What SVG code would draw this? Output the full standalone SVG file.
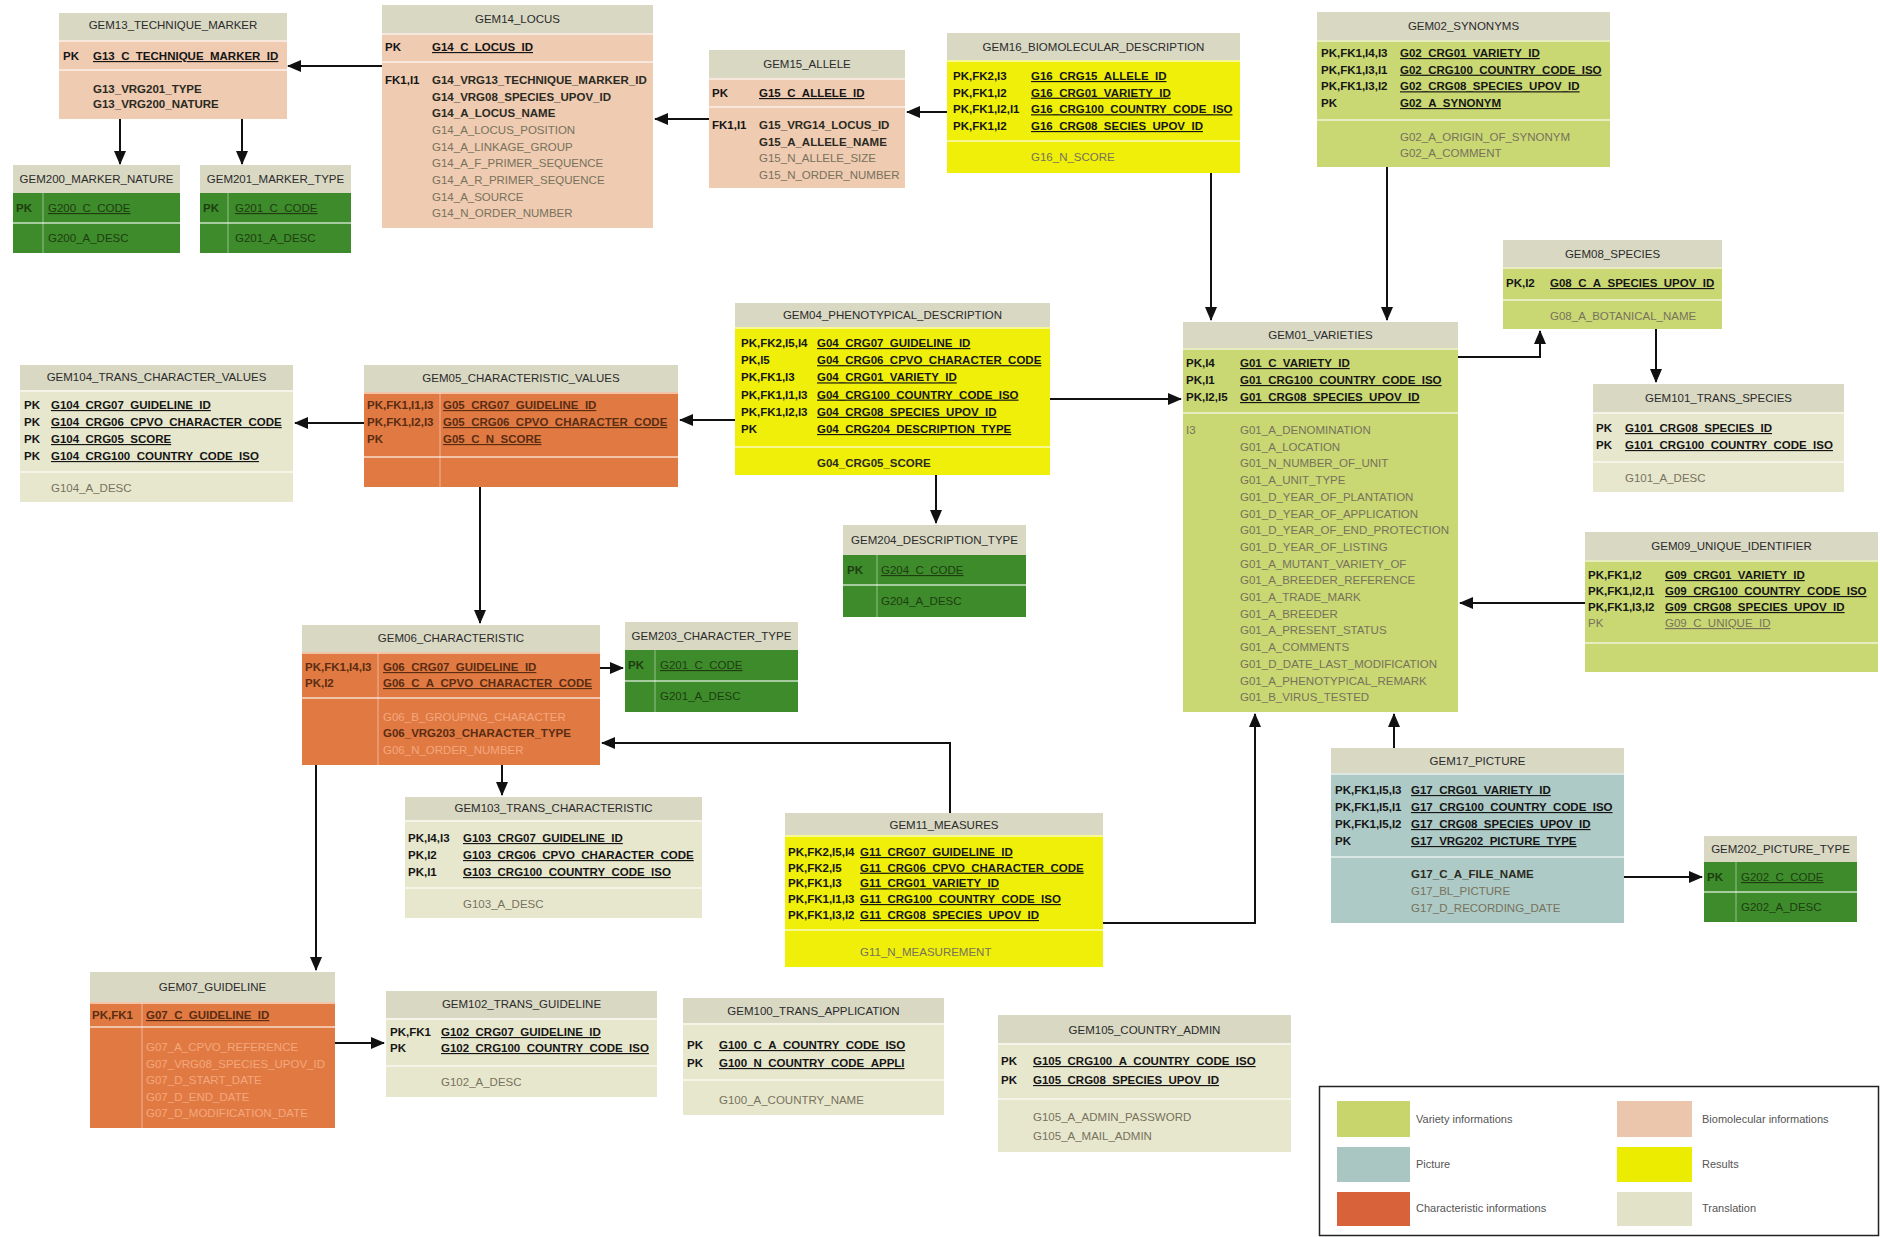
<svg xmlns="http://www.w3.org/2000/svg" width="1880" height="1237" viewBox="0 0 1880 1237">
<defs>
<style>
text{font-family:"Liberation Sans",Arial,sans-serif;font-size:11.5px}
.hd{fill:#d9d8c3}
.ti{text-anchor:middle;fill:#2b2b2b}
.k{font-weight:bold;fill:#151515}
.f{font-weight:bold;fill:#151515;text-decoration:underline}
.a{fill:#77725c}
.au{fill:#77725c;text-decoration:underline}
.b{font-weight:bold;fill:#2a2a22}
.hl{stroke:#fff;stroke-opacity:.55;stroke-width:2}
.vl{stroke:#fff;stroke-opacity:.3;stroke-width:1.5}
.var{fill:#c9d873}
.bio{fill:#efcbb1}
.pic{fill:#aecac6}
.res{fill:#efef0a}
.chr{fill:#e17a42}
.trn{fill:#e7e7ce}
.cod{fill:#3e8b2b}
.ck{font-weight:bold;fill:#5a2c12}
.cf{font-weight:bold;fill:#5a2c12;text-decoration:underline}
.ca{fill:#f3a77e}
.dk{fill:#1d3d10}
.dkb{fill:#1d3d10;font-weight:bold}
.du{fill:#1d3d10;text-decoration:underline}
.cn{stroke:#111;stroke-width:2;fill:none;marker-end:url(#ah)}
.lg{font-size:11px;fill:#555}
</style>
<marker id="ah" markerWidth="14" markerHeight="12" refX="13" refY="6" orient="auto" markerUnits="userSpaceOnUse"><path d="M0,0 L14,6 L0,12 z" fill="#111"/></marker>
</defs>
<rect x="0" y="0" width="1880" height="1237" fill="#fff"/>

<g id="connectors">
<path class="cn" d="M382,66 L288,66"/>
<path class="cn" d="M120,119 L120,164"/>
<path class="cn" d="M242,119 L242,164"/>
<path class="cn" d="M709,119 L655,119"/>
<path class="cn" d="M947,112 L907,112"/>
<path class="cn" d="M1211,173 L1211,320"/>
<path class="cn" d="M1387,167 L1387,320"/>
<path class="cn" d="M1458,357 L1540,357 L1540,331"/>
<path class="cn" d="M1656,329 L1656,382"/>
<path class="cn" d="M1585,603 L1460,603"/>
<path class="cn" d="M1394,748 L1394,714"/>
<path class="cn" d="M1103,923 L1255,923 L1255,714"/>
<path class="cn" d="M1624,877 L1702,877"/>
<path class="cn" d="M1050,399 L1181,399"/>
<path class="cn" d="M735,420 L680,420"/>
<path class="cn" d="M936,475 L936,523"/>
<path class="cn" d="M364,423 L295,423"/>
<path class="cn" d="M480,487 L480,623"/>
<path class="cn" d="M600,668 L623,668"/>
<path class="cn" d="M950,813 L950,743 L602,743"/>
<path class="cn" d="M502,765 L502,795"/>
<path class="cn" d="M316,765 L316,970"/>
<path class="cn" d="M335,1043 L384,1043"/>
</g>

<g id="gem13">
<rect class="bio" x="59" y="13" width="228" height="106"/>
<rect class="hd" x="59" y="13" width="228" height="27"/>
<line class="hl" x1="59" y1="41" x2="287" y2="41"/>
<line class="hl" x1="59" y1="70" x2="287" y2="70"/>
<text class="ti" x="173" y="29">GEM13_TECHNIQUE_MARKER</text>
<text class="k" x="63" y="60">PK</text>
<text class="f" x="93" y="60">G13_C_TECHNIQUE_MARKER_ID</text>
<text class="b" x="93" y="93">G13_VRG201_TYPE</text>
<text class="b" x="93" y="108">G13_VRG200_NATURE</text>
</g>

<g id="gem200">
<rect class="cod" x="13" y="165" width="167" height="88"/>
<rect class="hd" x="13" y="165" width="167" height="28"/>
<line class="hl" x1="13" y1="223" x2="180" y2="223"/>
<line class="vl" x1="43" y1="193" x2="43" y2="253"/>
<text class="ti" x="96.5" y="183">GEM200_MARKER_NATURE</text>
<text class="dkb" x="16" y="212">PK</text>
<text class="du" x="48" y="212">G200_C_CODE</text>
<text class="dk" x="48" y="242">G200_A_DESC</text>
</g>

<g id="gem201">
<rect class="cod" x="200" y="165" width="151" height="88"/>
<rect class="hd" x="200" y="165" width="151" height="28"/>
<line class="hl" x1="200" y1="223" x2="351" y2="223"/>
<line class="vl" x1="228" y1="193" x2="228" y2="253"/>
<text class="ti" x="275.5" y="183">GEM201_MARKER_TYPE</text>
<text class="dkb" x="203" y="212">PK</text>
<text class="du" x="235" y="212">G201_C_CODE</text>
<text class="dk" x="235" y="242">G201_A_DESC</text>
</g>

<g id="gem14">
<rect class="bio" x="382" y="5" width="271" height="223"/>
<rect class="hd" x="382" y="5" width="271" height="28"/>
<line class="hl" x1="382" y1="34" x2="653" y2="34"/>
<line class="hl" x1="382" y1="62" x2="653" y2="62"/>
<text class="ti" x="517.5" y="23">GEM14_LOCUS</text>
<text class="k" x="385" y="51">PK</text>
<text class="f" x="432" y="51">G14_C_LOCUS_ID</text>
<text class="k" x="385" y="84">FK1,I1</text>
<text class="b" x="432" y="84">G14_VRG13_TECHNIQUE_MARKER_ID</text>
<text class="b" x="432" y="100.7">G14_VRG08_SPECIES_UPOV_ID</text>
<text class="b" x="432" y="117.4">G14_A_LOCUS_NAME</text>
<text class="a" x="432" y="134">G14_A_LOCUS_POSITION</text>
<text class="a" x="432" y="150.7">G14_A_LINKAGE_GROUP</text>
<text class="a" x="432" y="167.4">G14_A_F_PRIMER_SEQUENCE</text>
<text class="a" x="432" y="184">G14_A_R_PRIMER_SEQUENCE</text>
<text class="a" x="432" y="200.7">G14_A_SOURCE</text>
<text class="a" x="432" y="217.4">G14_N_ORDER_NUMBER</text>
</g>

<g id="gem15">
<rect class="bio" x="709" y="50" width="196" height="138"/>
<rect class="hd" x="709" y="50" width="196" height="28"/>
<line class="hl" x1="709" y1="79" x2="905" y2="79"/>
<line class="hl" x1="709" y1="107" x2="905" y2="107"/>
<text class="ti" x="807" y="68">GEM15_ALLELE</text>
<text class="k" x="712" y="97">PK</text>
<text class="f" x="759" y="97">G15_C_ALLELE_ID</text>
<text class="k" x="712" y="129">FK1,I1</text>
<text class="b" x="759" y="129">G15_VRG14_LOCUS_ID</text>
<text class="b" x="759" y="145.7">G15_A_ALLELE_NAME</text>
<text class="a" x="759" y="162.3">G15_N_ALLELE_SIZE</text>
<text class="a" x="759" y="179">G15_N_ORDER_NUMBER</text>
</g>

<g id="gem16">
<rect class="res" x="947" y="33" width="293" height="140"/>
<rect class="hd" x="947" y="33" width="293" height="27"/>
<line class="hl" x1="947" y1="61" x2="1240" y2="61"/>
<line class="hl" x1="947" y1="141" x2="1240" y2="141"/>
<text class="ti" x="1093.5" y="51">GEM16_BIOMOLECULAR_DESCRIPTION</text>
<text class="k" x="953" y="80">PK,FK2,I3</text>
<text class="f" x="1031" y="80">G16_CRG15_ALLELE_ID</text>
<text class="k" x="953" y="96.7">PK,FK1,I2</text>
<text class="f" x="1031" y="96.7">G16_CRG01_VARIETY_ID</text>
<text class="k" x="953" y="113.3">PK,FK1,I2,I1</text>
<text class="f" x="1031" y="113.3">G16_CRG100_COUNTRY_CODE_ISO</text>
<text class="k" x="953" y="130">PK,FK1,I2</text>
<text class="f" x="1031" y="130">G16_CRG08_SECIES_UPOV_ID</text>
<text class="a" x="1031" y="161">G16_N_SCORE</text>
</g>

<g id="gem02">
<rect class="var" x="1317" y="12" width="293" height="155"/>
<rect class="hd" x="1317" y="12" width="293" height="28"/>
<line class="hl" x1="1317" y1="41" x2="1610" y2="41"/>
<line class="hl" x1="1317" y1="120" x2="1610" y2="120"/>
<text class="ti" x="1463.5" y="30">GEM02_SYNONYMS</text>
<text class="k" x="1321" y="57">PK,FK1,I4,I3</text>
<text class="f" x="1400" y="57">G02_CRG01_VARIETY_ID</text>
<text class="k" x="1321" y="73.7">PK,FK1,I3,I1</text>
<text class="f" x="1400" y="73.7">G02_CRG100_COUNTRY_CODE_ISO</text>
<text class="k" x="1321" y="90.3">PK,FK1,I3,I2</text>
<text class="f" x="1400" y="90.3">G02_CRG08_SPECIES_UPOV_ID</text>
<text class="k" x="1321" y="107">PK</text>
<text class="f" x="1400" y="107">G02_A_SYNONYM</text>
<text class="a" x="1400" y="141">G02_A_ORIGIN_OF_SYNONYM</text>
<text class="a" x="1400" y="157">G02_A_COMMENT</text>
</g>

<g id="gem08">
<rect class="var" x="1503" y="240" width="219" height="89"/>
<rect class="hd" x="1503" y="240" width="219" height="27"/>
<line class="hl" x1="1503" y1="268" x2="1722" y2="268"/>
<line class="hl" x1="1503" y1="300" x2="1722" y2="300"/>
<text class="ti" x="1612.5" y="258">GEM08_SPECIES</text>
<text class="k" x="1506" y="287">PK,I2</text>
<text class="f" x="1550" y="287">G08_C_A_SPECIES_UPOV_ID</text>
<text class="a" x="1550" y="320">G08_A_BOTANICAL_NAME</text>
</g>

<g id="gem101">
<rect class="trn" x="1593" y="384" width="251" height="108"/>
<rect class="hd" x="1593" y="384" width="251" height="28"/>
<line class="hl" x1="1593" y1="413" x2="1844" y2="413"/>
<line class="hl" x1="1593" y1="462" x2="1844" y2="462"/>
<text class="ti" x="1718.5" y="402">GEM101_TRANS_SPECIES</text>
<text class="k" x="1596" y="432">PK</text>
<text class="f" x="1625" y="432">G101_CRG08_SPECIES_ID</text>
<text class="k" x="1596" y="449">PK</text>
<text class="f" x="1625" y="449">G101_CRG100_COUNTRY_CODE_ISO</text>
<text class="a" x="1625" y="482">G101_A_DESC</text>
</g>

<g id="gem01">
<rect class="var" x="1183" y="322" width="275" height="390"/>
<rect class="hd" x="1183" y="322" width="275" height="26"/>
<line class="hl" x1="1183" y1="349" x2="1458" y2="349"/>
<line class="hl" x1="1183" y1="413" x2="1458" y2="413"/>
<text class="ti" x="1320.5" y="339">GEM01_VARIETIES</text>
<text class="k" x="1186" y="367">PK,I4</text>
<text class="f" x="1240" y="367">G01_C_VARIETY_ID</text>
<text class="k" x="1186" y="384">PK,I1</text>
<text class="f" x="1240" y="384">G01_CRG100_COUNTRY_CODE_ISO</text>
<text class="k" x="1186" y="401">PK,I2,I5</text>
<text class="f" x="1240" y="401">G01_CRG08_SPECIES_UPOV_ID</text>
<text class="a" x="1186" y="434">I3</text>
<text class="a" x="1240" y="434">G01_A_DENOMINATION</text>
<text class="a" x="1240" y="450.7">G01_A_LOCATION</text>
<text class="a" x="1240" y="467.4">G01_N_NUMBER_OF_UNIT</text>
<text class="a" x="1240" y="484.1">G01_A_UNIT_TYPE</text>
<text class="a" x="1240" y="500.8">G01_D_YEAR_OF_PLANTATION</text>
<text class="a" x="1240" y="517.5">G01_D_YEAR_OF_APPLICATION</text>
<text class="a" x="1240" y="534.2">G01_D_YEAR_OF_END_PROTECTION</text>
<text class="a" x="1240" y="550.9">G01_D_YEAR_OF_LISTING</text>
<text class="a" x="1240" y="567.6">G01_A_MUTANT_VARIETY_OF</text>
<text class="a" x="1240" y="584.3">G01_A_BREEDER_REFERENCE</text>
<text class="a" x="1240" y="601">G01_A_TRADE_MARK</text>
<text class="a" x="1240" y="617.7">G01_A_BREEDER</text>
<text class="a" x="1240" y="634.4">G01_A_PRESENT_STATUS</text>
<text class="a" x="1240" y="651.1">G01_A_COMMENTS</text>
<text class="a" x="1240" y="667.8">G01_D_DATE_LAST_MODIFICATION</text>
<text class="a" x="1240" y="684.5">G01_A_PHENOTYPICAL_REMARK</text>
<text class="a" x="1240" y="701.2">G01_B_VIRUS_TESTED</text>
</g>

<g id="gem09">
<rect class="var" x="1585" y="532" width="293" height="140"/>
<rect class="hd" x="1585" y="532" width="293" height="28"/>
<line class="hl" x1="1585" y1="561" x2="1878" y2="561"/>
<line class="hl" x1="1585" y1="643" x2="1878" y2="643"/>
<text class="ti" x="1731.5" y="550">GEM09_UNIQUE_IDENTIFIER</text>
<text class="k" x="1588" y="579">PK,FK1,I2</text>
<text class="f" x="1665" y="579">G09_CRG01_VARIETY_ID</text>
<text class="k" x="1588" y="595">PK,FK1,I2,I1</text>
<text class="f" x="1665" y="595">G09_CRG100_COUNTRY_CODE_ISO</text>
<text class="k" x="1588" y="611">PK,FK1,I3,I2</text>
<text class="f" x="1665" y="611">G09_CRG08_SPECIES_UPOV_ID</text>
<text class="a" x="1588" y="627">PK</text>
<text class="au" x="1665" y="627">G09_C_UNIQUE_ID</text>
</g>

<g id="gem04">
<rect class="res" x="735" y="303" width="315" height="172"/>
<rect class="hd" x="735" y="303" width="315" height="24"/>
<line class="hl" x1="735" y1="328" x2="1050" y2="328"/>
<line class="hl" x1="735" y1="447" x2="1050" y2="447"/>
<text class="ti" x="892.5" y="319">GEM04_PHENOTYPICAL_DESCRIPTION</text>
<text class="k" x="741" y="347">PK,FK2,I5,I4</text>
<text class="f" x="817" y="347">G04_CRG07_GUIDELINE_ID</text>
<text class="k" x="741" y="364.2">PK,I5</text>
<text class="f" x="817" y="364.2">G04_CRG06_CPVO_CHARACTER_CODE</text>
<text class="k" x="741" y="381.4">PK,FK1,I3</text>
<text class="f" x="817" y="381.4">G04_CRG01_VARIETY_ID</text>
<text class="k" x="741" y="398.6">PK,FK1,I1,I3</text>
<text class="f" x="817" y="398.6">G04_CRG100_COUNTRY_CODE_ISO</text>
<text class="k" x="741" y="415.8">PK,FK1,I2,I3</text>
<text class="f" x="817" y="415.8">G04_CRG08_SPECIES_UPOV_ID</text>
<text class="k" x="741" y="433">PK</text>
<text class="f" x="817" y="433">G04_CRG204_DESCRIPTION_TYPE</text>
<text class="b" x="817" y="467">G04_CRG05_SCORE</text>
</g>

<g id="gem204">
<rect class="cod" x="843" y="525" width="183" height="92"/>
<rect class="hd" x="843" y="525" width="183" height="30"/>
<line class="hl" x1="843" y1="585" x2="1026" y2="585"/>
<line class="vl" x1="877" y1="555" x2="877" y2="617"/>
<text class="ti" x="934.5" y="544">GEM204_DESCRIPTION_TYPE</text>
<text class="dkb" x="847" y="574">PK</text>
<text class="du" x="881" y="574">G204_C_CODE</text>
<text class="dk" x="881" y="605">G204_A_DESC</text>
</g>

<g id="gem104">
<rect class="trn" x="20" y="365" width="273" height="137"/>
<rect class="hd" x="20" y="365" width="273" height="25"/>
<line class="hl" x1="20" y1="391" x2="293" y2="391"/>
<line class="hl" x1="20" y1="472" x2="293" y2="472"/>
<text class="ti" x="156.5" y="381">GEM104_TRANS_CHARACTER_VALUES</text>
<text class="k" x="24" y="409">PK</text>
<text class="f" x="51" y="409">G104_CRG07_GUIDELINE_ID</text>
<text class="k" x="24" y="426">PK</text>
<text class="f" x="51" y="426">G104_CRG06_CPVO_CHARACTER_CODE</text>
<text class="k" x="24" y="443">PK</text>
<text class="f" x="51" y="443">G104_CRG05_SCORE</text>
<text class="k" x="24" y="460">PK</text>
<text class="f" x="51" y="460">G104_CRG100_COUNTRY_CODE_ISO</text>
<text class="a" x="51" y="492">G104_A_DESC</text>
</g>

<g id="gem05">
<rect class="chr" x="364" y="365" width="314" height="122"/>
<rect class="hd" x="364" y="365" width="314" height="27"/>
<line class="hl" x1="364" y1="393" x2="678" y2="393"/>
<line class="hl" x1="364" y1="457" x2="678" y2="457"/>
<line class="vl" x1="440" y1="393" x2="440" y2="487"/>
<text class="ti" x="521" y="382">GEM05_CHARACTERISTIC_VALUES</text>
<text class="ck" x="367" y="409">PK,FK1,I1,I3</text>
<text class="cf" x="443" y="409">G05_CRG07_GUIDELINE_ID</text>
<text class="ck" x="367" y="426">PK,FK1,I2,I3</text>
<text class="cf" x="443" y="426">G05_CRG06_CPVO_CHARACTER_CODE</text>
<text class="ck" x="367" y="443">PK</text>
<text class="cf" x="443" y="443">G05_C_N_SCORE</text>
</g>

<g id="gem06">
<rect class="chr" x="302" y="625" width="298" height="140"/>
<rect class="hd" x="302" y="625" width="298" height="27"/>
<line class="hl" x1="302" y1="653" x2="600" y2="653"/>
<line class="hl" x1="302" y1="698" x2="600" y2="698"/>
<line class="vl" x1="378" y1="653" x2="378" y2="765"/>
<text class="ti" x="451" y="642">GEM06_CHARACTERISTIC</text>
<text class="ck" x="305" y="671">PK,FK1,I4,I3</text>
<text class="cf" x="383" y="671">G06_CRG07_GUIDELINE_ID</text>
<text class="ck" x="305" y="687">PK,I2</text>
<text class="cf" x="383" y="687">G06_C_A_CPVO_CHARACTER_CODE</text>
<text class="ca" x="383" y="721">G06_B_GROUPING_CHARACTER</text>
<text class="ck" x="383" y="737">G06_VRG203_CHARACTER_TYPE</text>
<text class="ca" x="383" y="754">G06_N_ORDER_NUMBER</text>
</g>

<g id="gem203">
<rect class="cod" x="625" y="622" width="173" height="90"/>
<rect class="hd" x="625" y="622" width="173" height="28"/>
<line class="hl" x1="625" y1="681" x2="798" y2="681"/>
<line class="vl" x1="655" y1="650" x2="655" y2="712"/>
<text class="ti" x="711.5" y="640">GEM203_CHARACTER_TYPE</text>
<text class="dkb" x="628" y="669">PK</text>
<text class="du" x="660" y="669">G201_C_CODE</text>
<text class="dk" x="660" y="700">G201_A_DESC</text>
</g>

<g id="gem103">
<rect class="trn" x="405" y="797" width="297" height="121"/>
<rect class="hd" x="405" y="797" width="297" height="23"/>
<line class="hl" x1="405" y1="821" x2="702" y2="821"/>
<line class="hl" x1="405" y1="888" x2="702" y2="888"/>
<text class="ti" x="553.5" y="812">GEM103_TRANS_CHARACTERISTIC</text>
<text class="k" x="408" y="842">PK,I4,I3</text>
<text class="f" x="463" y="842">G103_CRG07_GUIDELINE_ID</text>
<text class="k" x="408" y="859">PK,I2</text>
<text class="f" x="463" y="859">G103_CRG06_CPVO_CHARACTER_CODE</text>
<text class="k" x="408" y="876">PK,I1</text>
<text class="f" x="463" y="876">G103_CRG100_COUNTRY_CODE_ISO</text>
<text class="a" x="463" y="908">G103_A_DESC</text>
</g>

<g id="gem11">
<rect class="res" x="785" y="813" width="318" height="154"/>
<rect class="hd" x="785" y="813" width="318" height="22"/>
<line class="hl" x1="785" y1="836" x2="1103" y2="836"/>
<line class="hl" x1="785" y1="930" x2="1103" y2="930"/>
<text class="ti" x="944" y="829">GEM11_MEASURES</text>
<text class="k" x="788" y="856">PK,FK2,I5,I4</text>
<text class="f" x="860" y="856">G11_CRG07_GUIDELINE_ID</text>
<text class="k" x="788" y="871.7">PK,FK2,I5</text>
<text class="f" x="860" y="871.7">G11_CRG06_CPVO_CHARACTER_CODE</text>
<text class="k" x="788" y="887.4">PK,FK1,I3</text>
<text class="f" x="860" y="887.4">G11_CRG01_VARIETY_ID</text>
<text class="k" x="788" y="903">PK,FK1,I1,I3</text>
<text class="f" x="860" y="903">G11_CRG100_COUNTRY_CODE_ISO</text>
<text class="k" x="788" y="919">PK,FK1,I3,I2</text>
<text class="f" x="860" y="919">G11_CRG08_SPECIES_UPOV_ID</text>
<text class="a" x="860" y="956">G11_N_MEASUREMENT</text>
</g>

<g id="gem17">
<rect class="pic" x="1331" y="748" width="293" height="175"/>
<rect class="hd" x="1331" y="748" width="293" height="25"/>
<line class="hl" x1="1331" y1="774" x2="1624" y2="774"/>
<line class="hl" x1="1331" y1="857" x2="1624" y2="857"/>
<text class="ti" x="1477.5" y="765">GEM17_PICTURE</text>
<text class="k" x="1335" y="794">PK,FK1,I5,I3</text>
<text class="f" x="1411" y="794">G17_CRG01_VARIETY_ID</text>
<text class="k" x="1335" y="811">PK,FK1,I5,I1</text>
<text class="f" x="1411" y="811">G17_CRG100_COUNTRY_CODE_ISO</text>
<text class="k" x="1335" y="828">PK,FK1,I5,I2</text>
<text class="f" x="1411" y="828">G17_CRG08_SPECIES_UPOV_ID</text>
<text class="k" x="1335" y="845">PK</text>
<text class="f" x="1411" y="845">G17_VRG202_PICTURE_TYPE</text>
<text class="b" x="1411" y="878">G17_C_A_FILE_NAME</text>
<text class="a" x="1411" y="895">G17_BL_PICTURE</text>
<text class="a" x="1411" y="912">G17_D_RECORDING_DATE</text>
</g>

<g id="gem202">
<rect class="cod" x="1704" y="836" width="153" height="86"/>
<rect class="hd" x="1704" y="836" width="153" height="26"/>
<line class="hl" x1="1704" y1="892" x2="1857" y2="892"/>
<line class="vl" x1="1736" y1="862" x2="1736" y2="922"/>
<text class="ti" x="1780.5" y="853">GEM202_PICTURE_TYPE</text>
<text class="dkb" x="1707" y="881">PK</text>
<text class="du" x="1741" y="881">G202_C_CODE</text>
<text class="dk" x="1741" y="911">G202_A_DESC</text>
</g>

<g id="gem07">
<rect class="chr" x="90" y="972" width="245" height="156"/>
<rect class="hd" x="90" y="972" width="245" height="30"/>
<line class="hl" x1="90" y1="1003" x2="335" y2="1003"/>
<line class="hl" x1="90" y1="1027" x2="335" y2="1027"/>
<line class="vl" x1="142" y1="1003" x2="142" y2="1128"/>
<text class="ti" x="212.5" y="991">GEM07_GUIDELINE</text>
<text class="ck" x="92" y="1019">PK,FK1</text>
<text class="cf" x="146" y="1019">G07_C_GUIDELINE_ID</text>
<text class="ca" x="146" y="1051">G07_A_CPVO_REFERENCE</text>
<text class="ca" x="146" y="1067.5">G07_VRG08_SPECIES_UPOV_ID</text>
<text class="ca" x="146" y="1084">G07_D_START_DATE</text>
<text class="ca" x="146" y="1100.5">G07_D_END_DATE</text>
<text class="ca" x="146" y="1117">G07_D_MODIFICATION_DATE</text>
</g>

<g id="gem102">
<rect class="trn" x="386" y="991" width="271" height="106"/>
<rect class="hd" x="386" y="991" width="271" height="27"/>
<line class="hl" x1="386" y1="1019" x2="657" y2="1019"/>
<line class="hl" x1="386" y1="1066" x2="657" y2="1066"/>
<text class="ti" x="521.5" y="1008">GEM102_TRANS_GUIDELINE</text>
<text class="k" x="390" y="1036">PK,FK1</text>
<text class="f" x="441" y="1036">G102_CRG07_GUIDELINE_ID</text>
<text class="k" x="390" y="1052">PK</text>
<text class="f" x="441" y="1052">G102_CRG100_COUNTRY_CODE_ISO</text>
<text class="a" x="441" y="1086">G102_A_DESC</text>
</g>

<g id="gem100">
<rect class="trn" x="683" y="998" width="261" height="117"/>
<rect class="hd" x="683" y="998" width="261" height="25"/>
<line class="hl" x1="683" y1="1024" x2="944" y2="1024"/>
<line class="hl" x1="683" y1="1080" x2="944" y2="1080"/>
<text class="ti" x="813.5" y="1015">GEM100_TRANS_APPLICATION</text>
<text class="k" x="687" y="1049">PK</text>
<text class="f" x="719" y="1049">G100_C_A_COUNTRY_CODE_ISO</text>
<text class="k" x="687" y="1067">PK</text>
<text class="f" x="719" y="1067">G100_N_COUNTRY_CODE_APPLI</text>
<text class="a" x="719" y="1104">G100_A_COUNTRY_NAME</text>
</g>

<g id="gem105">
<rect class="trn" x="998" y="1015" width="293" height="137"/>
<rect class="hd" x="998" y="1015" width="293" height="28"/>
<line class="hl" x1="998" y1="1044" x2="1291" y2="1044"/>
<line class="hl" x1="998" y1="1099" x2="1291" y2="1099"/>
<text class="ti" x="1144.5" y="1034">GEM105_COUNTRY_ADMIN</text>
<text class="k" x="1001" y="1065">PK</text>
<text class="f" x="1033" y="1065">G105_CRG100_A_COUNTRY_CODE_ISO</text>
<text class="k" x="1001" y="1084">PK</text>
<text class="f" x="1033" y="1084">G105_CRG08_SPECIES_UPOV_ID</text>
<text class="a" x="1033" y="1121">G105_A_ADMIN_PASSWORD</text>
<text class="a" x="1033" y="1140">G105_A_MAIL_ADMIN</text>
</g>

<g id="legend">
<rect x="1319.5" y="1086.5" width="559" height="149" fill="#fff" stroke="#222" stroke-width="1.5"/>
<rect x="1337" y="1101" width="73" height="36" fill="#c8d56c"/>
<rect x="1337" y="1147" width="73" height="35" fill="#a9c6c2"/>
<rect x="1337" y="1192" width="73" height="34" fill="#d8633b"/>
<rect x="1617" y="1101" width="75" height="36" fill="#ebc6ad"/>
<rect x="1617" y="1147" width="75" height="35" fill="#ecec00"/>
<rect x="1617" y="1192" width="75" height="34" fill="#e2e2c9"/>
<text class="lg" x="1416" y="1123">Variety informations</text>
<text class="lg" x="1416" y="1168">Picture</text>
<text class="lg" x="1416" y="1212">Characteristic informations</text>
<text class="lg" x="1702" y="1123">Biomolecular informations</text>
<text class="lg" x="1702" y="1168">Results</text>
<text class="lg" x="1702" y="1212">Translation</text>
</g>
</svg>
